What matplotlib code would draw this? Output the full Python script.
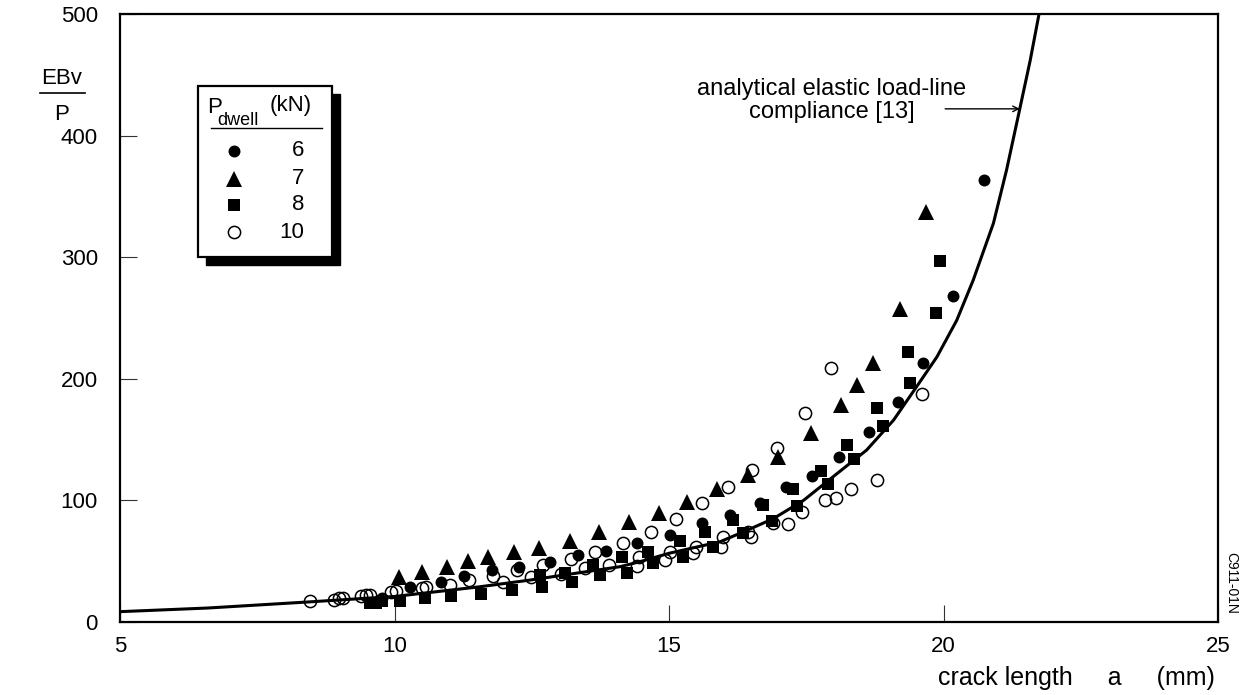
import matplotlib
matplotlib.use('Agg')
import matplotlib.pyplot as plt
from matplotlib.patches import Rectangle

plt.rcParams['font.family'] = ['Liberation Sans', 'DejaVu Sans']

# analytical elastic load-line compliance curve
curve_a = [5.0, 6.6, 8.4, 10.0, 11.56, 12.47, 14.11, 14.47, 15.0, 15.93, 16.4,
           16.9, 17.45, 17.99, 18.60, 19.09, 19.51, 19.88, 20.24, 20.54, 20.91,
           21.15, 21.38, 21.58, 21.74]
curve_v = [8.5, 11.5, 16.4, 21.0, 29.0, 34.5, 45.5, 49.6, 56.5, 66.0, 75.0,
           85.0, 100.0, 119.5, 141.4, 166.0, 193.5, 218.0, 248.0, 281.0, 328.0,
           372.0, 420.0, 462.0, 500.0]

# P_dwell = 6 kN
a6 = [9.77, 10.28, 10.84, 11.27, 11.77, 12.27, 12.83, 13.35, 13.85, 14.41, 15.02,
      15.60, 16.11, 16.66, 17.14, 17.60, 18.10, 18.65, 19.18, 19.62, 20.17, 20.74]
v6 = [19.5, 28.5, 33.1, 37.8, 42.8, 45.5, 49.6, 55.1, 58.6, 64.7, 71.5,
      81.2, 88.0, 97.6, 111.3, 120.1, 135.4, 156.5, 181.2, 213, 268, 363.5]

# P_dwell = 7 kN
a7 = [10.08, 10.50, 10.96, 11.33, 11.71, 12.18, 12.64, 13.20, 13.73, 14.27, 14.82,
      15.32, 15.87, 16.44, 16.98, 17.59, 18.13, 18.43, 18.71, 19.21, 19.69]
v7 = [36.8, 41.4, 45.5, 50.4, 53.2, 57.8, 60.6, 66.9, 74.3, 82.0, 89.4,
      98.9, 109.4, 120.9, 135.4, 155.2, 178.5, 194.9, 213.2, 257.2, 337.4]

# P_dwell = 8 kN
a8 = [9.55, 9.66, 9.77, 10.10, 10.56, 11.03, 11.57, 12.14, 12.68, 12.65, 13.23,
      13.11, 13.74, 13.62, 14.24, 14.14, 14.71, 14.62, 15.26, 15.20, 15.80, 15.66,
      16.35, 16.17, 16.87, 16.72, 17.33, 17.26, 17.90, 17.76, 18.37, 18.24, 18.89,
      18.78, 19.39, 19.36, 19.86, 19.94]
v8 = [16.0, 16.0, 17.3, 17.3, 19.5, 21.4, 23.0, 26.3, 29.0, 38.7, 32.6,
      40.0, 38.7, 46.9, 40.5, 53.7, 48.3, 57.8, 53.7, 66.9, 61.9, 74.3,
      72.9, 83.9, 83.1, 96.2, 95.6, 109.1, 113.5, 124.2, 133.8, 145.6, 161.2,
      176.2, 196.3, 222.3, 253.9, 296.9]

# P_dwell = 10 kN
a10 = [8.46, 8.89, 8.98, 9.07, 9.39, 9.48, 9.55, 9.94, 10.03, 10.50, 10.57, 11.01,
       11.36, 11.80, 11.98, 12.23, 12.49, 12.70, 13.03, 13.21, 13.47, 13.65, 13.91,
       14.16, 14.46, 14.42, 14.67, 14.93, 15.01, 15.13, 15.44, 15.50, 15.61, 15.98,
       15.94, 16.08, 16.44, 16.50, 16.52, 16.90, 16.96, 17.16, 17.43, 17.47, 17.84,
       18.04, 17.95, 18.32, 18.78, 19.60]
v10 = [17.5, 18.1, 19.5, 19.5, 21.0, 22.2, 22.6, 24.9, 25.9, 28.0, 28.5, 30.8,
       34.5, 37.8, 33.1, 42.8, 37.4, 46.9, 39.5, 51.6, 44.2, 57.8, 46.9,
       65.2, 53.7, 46.1, 74.3, 51.0, 57.8, 84.7, 56.5, 61.9, 97.6, 69.7,
       61.4, 110.8, 74.0, 70.0, 125.0, 81.7, 142.8, 80.3, 90.7, 172.1, 100.3,
       101.7, 208.6, 109.4, 116.8, 187.5]

legend_labels = ['6', '7', '8', '10']

fig = plt.figure(figsize=(12.56, 6.95), dpi=100)
ax = fig.add_axes([120/1256, 73/695, 1098/1256, 608/695])

ax.plot(curve_a, curve_v, color='black', lw=2.2, zorder=2)
ax.plot(a6, v6, 'o', color='black', ms=8.6, mew=0, zorder=3)
ax.plot(a7, v7, '^', color='black', ms=11.5, mew=0, zorder=3)
ax.plot(a8, v8, 's', color='black', ms=8.2, mew=0, zorder=3)
ax.plot(a10, v10, 'o', mfc='none', mec='black', ms=8.8, mew=1.1, zorder=4)

ax.set_xlim(5, 25)
ax.set_ylim(0, 500)
ax.set_xticks([5, 10, 15, 20, 25])
ax.set_yticks([0, 100, 200, 300, 400, 500])
for s in ax.spines.values():
    s.set_linewidth(1.6)
ax.tick_params(direction='in', length=12, width=0.8, color='#333333',
               labelsize=16, top=False, right=False)
ax.tick_params(axis='y', pad=16)
ax.tick_params(axis='x', pad=10)

# y label as a fraction EBv / P
fig.text(62/1256, 1 - 78/695, 'EBv', fontsize=16, ha='center', va='center')
fig.add_artist(plt.Line2D([40/1256, 85/1256], [1 - 93/695, 1 - 93/695],
                          color='black', lw=1.2))
fig.text(62/1256, 1 - 114/695, 'P', fontsize=16, ha='center', va='center')

fig.text(1215/1256, 1 - 678/695, 'crack length     a     (mm)', fontsize=18,
         ha='right', va='center')
fig.text(1231/1256, 1 - 583/695, 'C911-01N', fontsize=10, rotation=-90,
         ha='center', va='center')

# annotation of the curve
ax.text(17.97, 429, 'analytical elastic load-line\ncompliance [13]', fontsize=17,
        ha='center', va='center', linespacing=1.05)
ax.annotate('', xy=(21.39, 422), xytext=(20.03, 422),
            arrowprops=dict(arrowstyle='->', color='black', lw=1.0,
                            shrinkA=0, shrinkB=0))

# hand-drawn legend box with shadow
tr = ax.transAxes
ax.add_patch(Rectangle((0.0783, 0.587), 0.1220, 0.282, transform=tr,
                       facecolor='black', edgecolor='black', zorder=5, clip_on=False))
ax.add_patch(Rectangle((0.071, 0.600), 0.1220, 0.282, transform=tr,
                       facecolor='white', edgecolor='black', lw=1.6, zorder=6,
                       clip_on=False))
ax.text(0.0792, 0.847, 'P', transform=tr, fontsize=16, ha='left', va='center',
        zorder=7)
ax.text(0.0888, 0.825, 'dwell', transform=tr, fontsize=13, ha='left', va='center',
        zorder=7)
ax.text(0.1365, 0.850, '(kN)', transform=tr, fontsize=16, ha='left', va='center',
        zorder=7)
ax.plot([0.083, 0.184], [0.8125, 0.8125], transform=tr, color='black', lw=1.0,
        zorder=7, clip_on=False)
rows = [0.775, 0.729, 0.686, 0.641]
styles = [dict(marker='o', color='black', ms=8.6, mew=0),
          dict(marker='^', color='black', ms=11.5, mew=0),
          dict(marker='s', color='black', ms=8.2, mew=0),
          dict(marker='o', mfc='none', mec='black', ms=8.8, mew=1.1)]
for yy, lab, st in zip(rows, legend_labels, styles):
    ax.plot([0.104], [yy], transform=tr, linestyle='none', zorder=7,
            clip_on=False, **st)
    ax.text(0.168, yy, lab, transform=tr, fontsize=16, ha='right', va='center',
            zorder=7)

fig.savefig('out.png', dpi=100)
